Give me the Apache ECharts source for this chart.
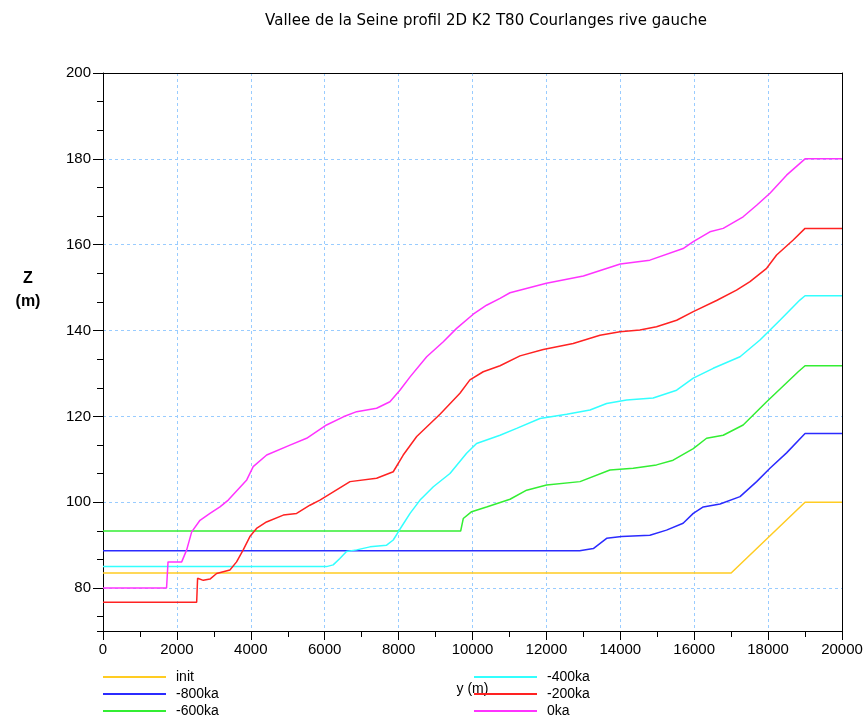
<!DOCTYPE html>
<html>
<head>
<meta charset="utf-8">
<script src="https://cdn.jsdelivr.net/npm/echarts@6/dist/echarts.min.js"></script>
<style>html,body{margin:0;padding:0;background:#fff;}#chart{width:866px;height:719px;}</style>
</head>
<body>
<div id="chart"></div>
<script>
const titleText = 'Vallee de la Seine profil 2D K2 T80 Courlanges rive gauche';
const xTicks = [0, 2000, 4000, 6000, 8000, 10000, 12000, 14000, 16000, 18000, 20000];
const yTicks = [80, 100, 120, 140, 160, 180, 200];
const seriesNames = ['init', '-800ka', '-600ka', '-400ka', '-200ka', '0ka'];

const initY = [0, 17000, 19000, 20000];
const initZ = [83.5, 83.5, 100, 100];

const m800Y = [0, 12900, 13270, 13630, 14035, 14800, 15250, 15700, 15975, 16245, 16700, 17240, 17690, 18050, 18500, 19000, 20000];
const m800Z = [88.7, 88.7, 89.2, 91.6, 92.0, 92.3, 93.5, 95.1, 97.4, 98.9, 99.6, 101.3, 104.8, 107.9, 111.5, 116, 116];

const m600Y = [0, 9680, 9750, 9977, 10380, 11015, 11465, 12005, 12910, 13720, 14350, 14980, 15430, 15975, 16335, 16785, 17325, 17960, 18815, 19000, 20000];
const m600Z = [93.3, 93.3, 96.2, 97.8, 98.9, 100.7, 102.8, 104.0, 104.8, 107.5, 107.9, 108.7, 109.8, 112.5, 114.9, 115.6, 118.0, 123.4, 130.4, 131.8, 131.8];

const m400Y = [0, 6050, 6230, 6410, 6590, 6865, 7225, 7675, 7855, 8035, 8310, 8580, 8940, 9390, 9840, 10110, 10745, 11195, 11825, 12550, 13180, 13630, 14170, 14890, 15525, 15975, 16515, 17240, 17780, 18320, 18860, 19000, 20000];
const m400Z = [85.0, 85.0, 85.4, 86.9, 88.5, 88.9, 89.6, 90.0, 91.2, 93.7, 97.4, 100.5, 103.6, 106.7, 111.4, 113.7, 115.6, 117.2, 119.5, 120.5, 121.5, 123.0, 123.8, 124.3, 126.1, 128.9, 131.2, 133.9, 137.8, 142.4, 147.1, 148.1, 148.1];

const m200Y = [0, 2535, 2560, 2715, 2895, 3075, 3435, 3615, 3795, 3975, 4155, 4425, 4880, 5240, 5600, 5870, 6685, 7405, 7855, 8125, 8490, 9120, 9660, 9930, 10290, 10745, 11285, 11915, 12725, 13450, 13990, 14530, 14980, 15525, 15975, 16605, 17145, 17510, 17960, 18230, 18680, 19000, 20000];
const m200Z = [76.7, 76.7, 82.3, 81.8, 82.1, 83.4, 84.2, 86.1, 88.9, 92.0, 93.9, 95.4, 97.0, 97.4, 99.3, 100.5, 104.8, 105.6, 107.1, 111.0, 115.3, 120.5, 125.4, 128.5, 130.4, 131.8, 134.1, 135.6, 137.0, 138.9, 139.7, 140.1, 140.9, 142.4, 144.4, 147.0, 149.4, 151.4, 154.5, 157.6, 161.1, 163.8, 163.8];

const m0Y = [0, 1720, 1760, 2130, 2265, 2400, 2625, 2895, 3165, 3390, 3890, 4065, 4430, 5060, 5510, 6050, 6505, 6865, 7405, 7765, 8035, 8310, 8760, 9210, 9570, 10020, 10380, 10745, 11015, 12000, 13000, 14000, 14800, 15700, 15975, 16425, 16785, 17325, 17690, 18050, 18500, 19000, 20000];
const m0Z = [80, 80, 86.1, 86.1, 88.9, 93.1, 95.8, 97.4, 98.9, 100.5, 105.2, 108.3, 111.0, 113.3, 114.9, 118.0, 119.9, 121.1, 121.9, 123.4, 126.1, 129.2, 133.9, 137.4, 140.5, 143.8, 145.9, 147.5, 148.8, 151.0, 152.7, 155.5, 156.4, 159.1, 160.7, 163.0, 163.8, 166.5, 169.2, 172.0, 176.2, 180, 180];

const colors = ['#ffcc22', '#2b2bff', '#33ee33', '#33ffff', '#ff2222', '#ff33ff'];
const ys = [initY, m800Y, m600Y, m400Y, m200Y, m0Y];
const zs = [initZ, m800Z, m600Z, m400Z, m200Z, m0Z];

const FONT = "'Liberation Sans', Arial, sans-serif";
const chart = echarts.init(document.getElementById('chart'), null, {renderer: 'canvas'});

const series = seriesNames.map((name, i) => ({
  name: name,
  type: 'line',
  xAxisIndex: 0,
  yAxisIndex: 0,
  data: ys[i].map((v, k) => [v, zs[i][k]]),
  showSymbol: false,
  symbol: 'none',
  lineStyle: {color: colors[i], width: 1.5},
  itemStyle: {color: colors[i]},
  animation: false,
  z: 3
}));

const gridLine = {show: true, showMinLine: false, showMaxLine: false, lineStyle: {color: '#99ccff', type: [3, 3], width: 1}};
const frameLine = {show: true, lineStyle: {color: '#000', width: 1}};

chart.setOption({
  animation: false,
  backgroundColor: '#fff',
  textStyle: {fontFamily: FONT},
  grid: {left: 103, right: 24, top: 73, bottom: 88, show: false, containLabel: false},
  graphic: [
    {type: 'text', x: 486, y: 21, style: {text: titleText, fontSize: 15, fontFamily: "'DejaVu Sans', sans-serif", fill: '#000', align: 'center', verticalAlign: 'middle'}},
    {type: 'text', x: 28, y: 279, style: {text: 'Z', fontSize: 16, fontWeight: 'bold', fontFamily: FONT, fill: '#000', align: 'center', verticalAlign: 'middle'}},
    {type: 'text', x: 28, y: 302, style: {text: '(m)', fontSize: 16, fontWeight: 'bold', fontFamily: FONT, fill: '#000', align: 'center', verticalAlign: 'middle'}}
  ],
  legend: [
    {data: seriesNames.slice(0, 3), orient: 'vertical', left: 103, top: 669, padding: 0, itemGap: 1, itemWidth: 63, itemHeight: 2, icon: 'rect',
     textStyle: {fontSize: 14, color: '#000', fontFamily: FONT, lineHeight: 16, padding: [0, 0, 0, 5]}},
    {data: seriesNames.slice(3, 6), orient: 'vertical', left: 474, top: 669, padding: 0, itemGap: 1, itemWidth: 63, itemHeight: 2, icon: 'rect',
     textStyle: {fontSize: 14, color: '#000', fontFamily: FONT, lineHeight: 16, padding: [0, 0, 0, 5]}}
  ],
  xAxis: [{
    type: 'value', min: xTicks[0], max: xTicks[xTicks.length - 1], interval: xTicks[1] - xTicks[0],
    name: 'y (m)', nameLocation: 'middle', nameGap: 51,
    nameTextStyle: {fontSize: 14, color: '#000', fontFamily: FONT},
    axisLine: frameLine,
    axisTick: {show: true, length: 9, lineStyle: {color: '#000'}},
    minorTick: {show: true, splitNumber: 2, length: 6, lineStyle: {color: '#000'}},
    axisLabel: {fontSize: 15, color: '#000', margin: 11, fontFamily: FONT, formatter: v => String(v)},
    splitLine: gridLine
  }, {
    type: 'value', min: xTicks[0], max: xTicks[xTicks.length - 1], position: 'top',
    axisLine: frameLine, axisTick: {show: false}, axisLabel: {show: false}, splitLine: {show: false}
  }],
  yAxis: [{
    type: 'value', min: 70, max: yTicks[yTicks.length - 1], splitNumber: 6,
    axisLine: frameLine,
    axisTick: {show: true, length: 10, lineStyle: {color: '#000'}},
    axisLabel: {fontSize: 15, color: '#000', margin: 12, fontFamily: FONT, showMinLabel: false,
      formatter: v => (yTicks.indexOf(v) >= 0 ? String(v) : '')},
    splitLine: gridLine
  }, {
    type: 'value', min: -200, max: -70, interval: 20 / 3, inverse: true, position: 'left',
    axisLine: {show: false}, axisLabel: {show: false}, splitLine: {show: false},
    axisTick: {show: true, length: 6, lineStyle: {color: '#000'}}
  }, {
    type: 'value', min: 70, max: 200, position: 'right',
    axisLine: frameLine, axisTick: {show: false}, axisLabel: {show: false}, splitLine: {show: false}
  }],
  series: series
});
</script>
</body>
</html>
